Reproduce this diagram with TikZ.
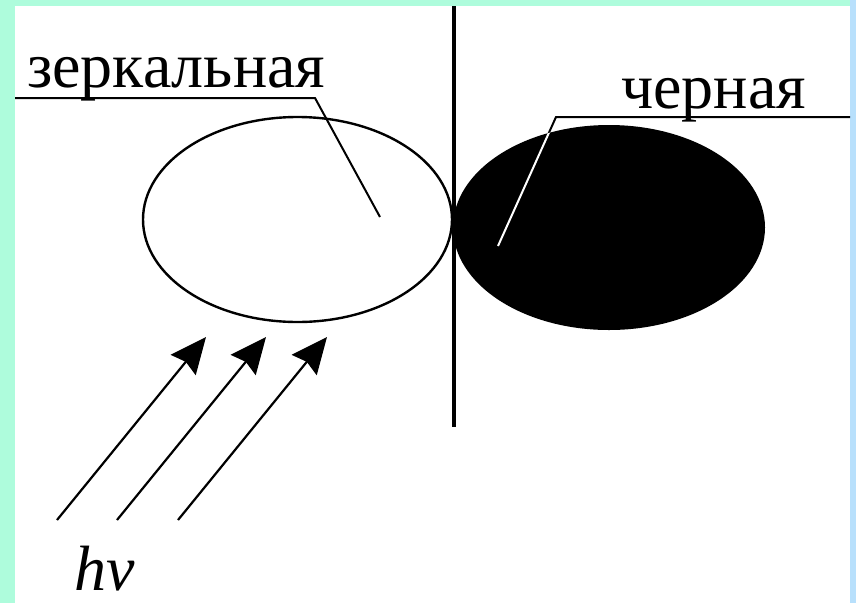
\documentclass[tikz,border=0pt]{standalone}
\usepackage{fontspec}
\setmainfont{Liberation Serif}
\usetikzlibrary{shapes.geometric,arrows.meta}

\definecolor{slidegreen}{RGB}{174,252,220}
\definecolor{slideblue}{RGB}{184,224,252}

\begin{document}
\begin{tikzpicture}
[
	x=1pt, y=-1pt,
	label/.style={font=\fontsize{64}{70}\selectfont, inner sep=0pt, anchor=base west},
	body/.style={ellipse, inner sep=0pt, line width=2.4pt},
	leader/.style={line width=2pt},
	photon/.style={line width=2.2pt, -{Stealth[length=36pt,width=32pt,inset=4pt]}}
]

	% frame
	\fill[slidegreen] (0,0) rectangle (856,603);
	\fill[slideblue] (850,0) rectangle (856,603);
	\fill[white] (15,6) rectangle (850,603);
	\useasboundingbox (0,0) rectangle (856,603);

	% bodies
	\node[body, draw, minimum width=309pt, minimum height=205pt] (mirror) at (297.5,219.5) {};
	\node[body, fill=black, minimum width=312pt, minimum height=205pt] (blackbody) at (609,227.5) {};

	% wall
	\coordinate (wall top) at (454,6);
	\coordinate (wall end) at (454,427);
	\draw[line width=3.6pt] (wall top) -- (wall end);

	% labels
	\node[label] (mirror label) at (27,87) {зеркальная};
	\node[label] (black label) at (621,108) {черная};

	\coordinate (mirror knee) at (315,98);
	\coordinate (mirror tip) at (380,217);
	\draw[leader] (15,98) -- (mirror knee) -- (mirror tip);

	\coordinate (black knee) at (556,117);
	\coordinate (black tip) at (498,246);
	\draw[leader] (850,117) -- (black knee) -- (black tip);
	\begin{scope}
		\clip (blackbody.center) ellipse [x radius=156, y radius=102.5];
		\draw[leader, white] (black knee) -- (black tip);
	\end{scope}

	% light
	\foreach \t/\n in {57/a,117/b,178/c}
	{
		\coordinate (ray \n) at (\t,520);
		\draw[photon] (ray \n) -- ++(149,-183);
	}
	\node[label, font=\fontsize{64}{70}\selectfont\itshape] (quantum) at (74,590) {hv};

\end{tikzpicture}
\end{document}
